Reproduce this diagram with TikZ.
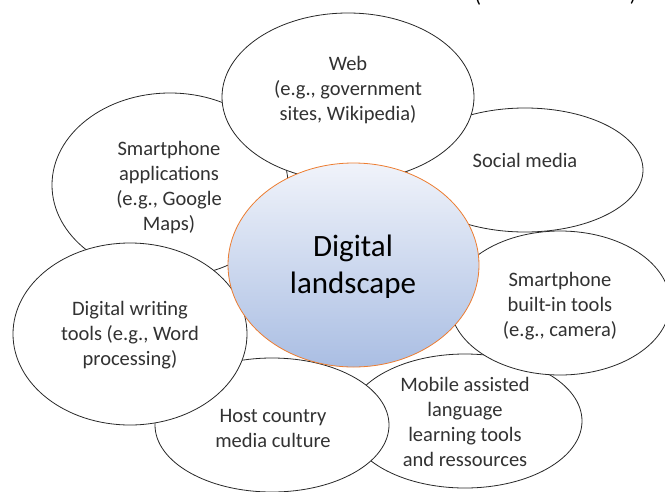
\documentclass[tikz,border=0pt]{standalone}
\usepackage{fontspec}
\setmainfont{Carlito}
\usetikzlibrary{shapes.geometric}
\definecolor{txtgray}{RGB}{50,50,50}
\definecolor{edgegray}{RGB}{40,40,40}
\definecolor{ctrorange}{RGB}{237,125,49}
\definecolor{ctrtop}{RGB}{240,243,250}
\definecolor{ctrmid}{RGB}{198,212,236}
\definecolor{ctrbot}{RGB}{170,190,227}
\begin{document}
\begin{tikzpicture}[x=1pt,y=-1pt,
  bubble/.style={ellipse, draw=edgegray, line width=0.8pt, fill=white, inner sep=0pt},
  bubbletext/.style={align=center, text=txtgray, font=\fontsize{20.5}{25}\selectfont, inner sep=0pt},
  hubshape/.style={ellipse, draw=ctrorange, line width=0.8pt, inner sep=0pt,
    top color=ctrtop, middle color=ctrmid, bottom color=ctrbot},
  hubtext/.style={align=center, text=black, font=\fontsize{31}{37}\selectfont, inner sep=0pt},
  partext/.style={anchor=base, text=black, font=\fontsize{20.5}{25}\selectfont, inner sep=0pt}]
\useasboundingbox (0,0) rectangle (665,491);
% clipped parentheses at the top edge
\node[partext] (lpar) at (478,2) {(};
\node[partext] (rpar) at (633,1) {)};
% outer bubbles (back to front)
\node[bubble, minimum width=234pt, minimum height=134pt] (mobile) at (465,421) {};
\node[bubble, minimum width=220pt, minimum height=144pt] (builtin) at (560,303) {};
\node[bubble, minimum width=236pt, minimum height=124pt] (social) at (525,170) {};
\node[bubble, minimum width=236pt, minimum height=184pt] (apps) at (170,185) {};
\node[bubble, minimum width=234pt, minimum height=134pt] (host) at (272,425) {};
\node[bubble, minimum width=252pt, minimum height=168pt] (web) at (348,97) {};
\node[bubble, minimum width=234pt, minimum height=182pt] (dw) at (130,334) {};
% hub
\node[hubshape, minimum width=251pt, minimum height=204pt] (hub) at (353.5,265) {};
% texts
\node[bubbletext] (mobiletxt) at (465,422) {Mobile assisted\\language\\learning tools\\and ressources};
\node[bubbletext] (builtintxt) at (560,306) {Smartphone\\built-in tools\\(e.g., camera)};
\node[bubbletext] (socialtxt) at (525,160) {Social media};
\node[bubbletext] (appstxt) at (169,188) {Smartphone\\applications\\(e.g., Google\\Maps)};
\node[bubbletext] (hosttxt) at (273,428) {Host country\\media culture};
\node[bubbletext] (webtxt) at (348,90) {Web\\(e.g., government\\sites, Wikipedia)};
\node[bubbletext] (dwtxt) at (130,335) {Digital writing\\tools (e.g., Word\\processing)};
\node[hubtext] (hubtxt) at (353,267) {Digital\\landscape};
\end{tikzpicture}
\end{document}
